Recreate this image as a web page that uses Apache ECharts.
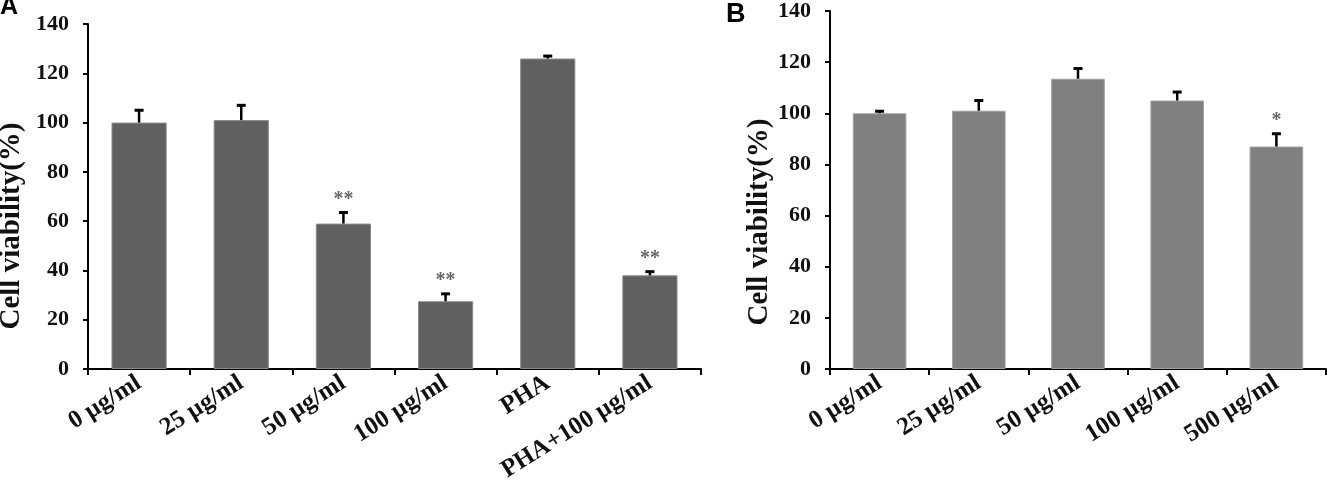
<!DOCTYPE html>
<html>
<head>
<meta charset="utf-8">
<script src="https://cdn.jsdelivr.net/npm/echarts@6/dist/echarts.min.js"></script>
<style>
html,body{margin:0;padding:0;background:#fff;}
#chart{width:1327px;height:481px;}
</style>
</head>
<body>
<div id="chart"></div>
<script>
// ---- data ----
var catsA = ['0 µg/ml', '25 µg/ml', '50 µg/ml', '100 µg/ml', 'PHA', 'PHA+100 µg/ml'];
var valsA = [100, 101, 59, 27.5, 126, 38];
var errA  = [5, 6, 4.5, 3, 1, 1.5];
var sigA  = ['', '', '**', '**', '', '**'];

var catsB = ['0 µg/ml', '25 µg/ml', '50 µg/ml', '100 µg/ml', '500 µg/ml'];
var valsB = [100, 101, 113.5, 105, 87];
var errB  = [0.8, 4, 4, 3.3, 5];
var sigB  = ['', '', '', '', '*'];

var yTicks = [0, 20, 40, 60, 80, 100, 120, 140];
var yTitle = 'Cell viability(%)';

// ---- helpers ----
var SERIF = '"Liberation Serif","Times New Roman",serif';
function errItem(sig) {
  return function (params, api) {
    var i = api.value(0), v = api.value(1), e = api.value(2);
    var base = api.coord([i, v]);
    var top = api.coord([i, v + e]);
    var children = [
      {type: 'line', shape: {x1: top[0], y1: base[1], x2: top[0], y2: top[1]},
       style: {stroke: '#000', lineWidth: 2.5}},
      {type: 'line', shape: {x1: top[0] - 4.5, y1: top[1], x2: top[0] + 4.5, y2: top[1]},
       style: {stroke: '#000', lineWidth: 3}}
    ];
    var s = sig[params.dataIndex];
    if (s) {
      children.push({type: 'text', x: top[0], y: top[1] - 3,
        style: {text: s, fill: '#666', font: 'bold 20px ' + SERIF,
                align: 'center', verticalAlign: 'bottom'}});
    }
    return {type: 'group', children: children};
  };
}
function errData(vals, errs) {
  return vals.map(function (v, i) { return [i, v, errs[i]]; });
}

var axisLineStyle = {color: '#000', width: 2};
function xAxisCfg(cats, gi) {
  return {
    type: 'category', data: cats, gridIndex: gi,
    axisLine: {lineStyle: axisLineStyle},
    axisTick: {show: true, length: 6, lineStyle: {color: '#000', width: 2}},
    axisLabel: {rotate: 32, margin: 12, color: '#111', fontFamily: SERIF,
                fontWeight: 'bold', fontSize: 25}
  };
}
function yAxisCfg(gi) {
  return {
    type: 'value', gridIndex: gi, min: yTicks[0], max: yTicks[yTicks.length - 1],
    interval: yTicks[1] - yTicks[0],
    axisLine: {show: true, lineStyle: axisLineStyle},
    axisTick: {show: true, length: 5, lineStyle: {color: '#000', width: 2}},
    splitLine: {show: false},
    axisLabel: {margin: 19, color: '#111', fontFamily: SERIF,
                fontWeight: 'bold', fontSize: 22}
  };
}

var chart = echarts.init(document.getElementById('chart'), null, {renderer: 'canvas'});
chart.setOption({
  animation: false,
  backgroundColor: '#fff',
  grid: [
    {left: 88, top: 24, width: 613, height: 345, containLabel: false, outerBoundsMode: 'none'},
    {left: 830, top: 11, width: 496, height: 358, containLabel: false, outerBoundsMode: 'none'}
  ],
  xAxis: [xAxisCfg(catsA, 0), xAxisCfg(catsB, 1)],
  yAxis: [yAxisCfg(0), yAxisCfg(1)],
  graphic: [
    {type: 'text', left: 0, top: -5,
     style: {text: 'A', font: 'bold 25px "Liberation Sans",Arial,sans-serif', fill: '#000'}},
    {type: 'text', left: 726, top: 1,
     style: {text: 'B', font: 'bold 27px "Liberation Sans",Arial,sans-serif', fill: '#000'}},
    {type: 'text', x: 12, y: 226, rotation: Math.PI / 2,
     style: {text: yTitle, font: 'bold 29px ' + SERIF, fill: '#111',
             align: 'center', verticalAlign: 'middle'}},
    {type: 'text', x: 760, y: 222, rotation: Math.PI / 2,
     style: {text: yTitle, font: 'bold 29px ' + SERIF, fill: '#111',
             align: 'center', verticalAlign: 'middle'}}
  ],
  series: [
    {type: 'bar', xAxisIndex: 0, yAxisIndex: 0, data: valsA, barWidth: '54%',
     itemStyle: {color: '#606060', borderColor: '#8a8a8a', borderWidth: 1}},
    {type: 'custom', xAxisIndex: 0, yAxisIndex: 0, data: errData(valsA, errA),
     renderItem: errItem(sigA), z: 5},
    {type: 'bar', xAxisIndex: 1, yAxisIndex: 1, data: valsB, barWidth: '54%',
     itemStyle: {color: '#808080', borderColor: '#a0a0a0', borderWidth: 1}},
    {type: 'custom', xAxisIndex: 1, yAxisIndex: 1, data: errData(valsB, errB),
     renderItem: errItem(sigB), z: 5}
  ]
});
</script>
</body>
</html>
